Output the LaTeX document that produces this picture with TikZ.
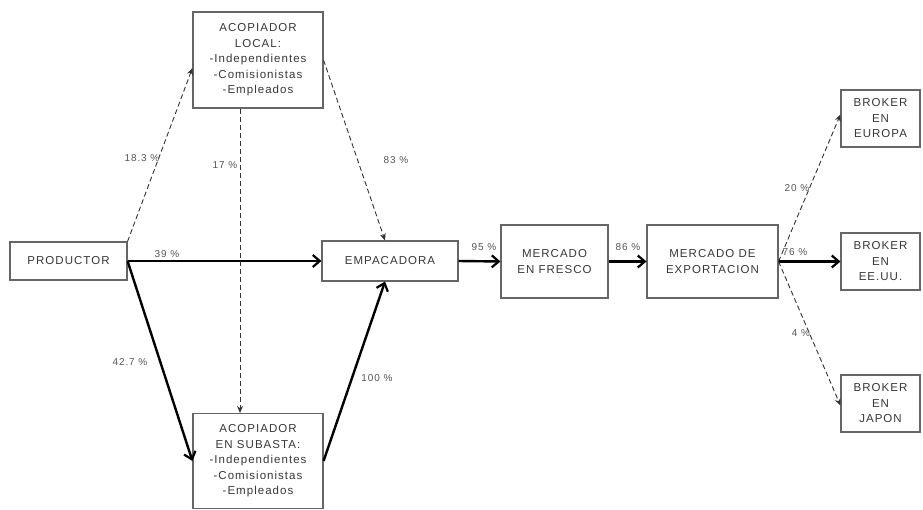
\documentclass[tikz,border=0pt]{standalone}
\usepackage{fontspec}
\setmainfont{Liberation Sans}
\newfontfamily\spacedfont[LetterSpace=9]{Liberation Sans}
\usetikzlibrary{arrows.meta}
\definecolor{boxtxt}{RGB}{55,55,55}
\definecolor{lbl}{RGB}{85,85,85}
\begin{document}
\begin{tikzpicture}[x=1pt,y=-1pt,
  box/.style={draw=gray!80!black,line width=1.1pt,fill=white,align=center,inner sep=1pt,
    font=\spacedfont\fontsize{11.5}{15.5}\selectfont,text=boxtxt},
  thickarr/.style={line width=2.4pt,-{Straight Barb[length=7pt,width=12pt,line width=2.2pt]}},
  dasharr/.style={dashed,line width=0.9pt,dash pattern=on 5pt off 3pt,-{Stealth[length=7pt,width=6pt]},color=black!80},
  pct/.style={font=\spacedfont\fontsize{10}{11}\selectfont,text=lbl}]
\useasboundingbox (0,0) rectangle (923,510);
\node[box,minimum width=130pt,minimum height=96pt] (loc) at (258,60)
  {ACOPIADOR\\LOCAL:\\-Independientes\\-Comisionistas\\-Empleados};
\node[box,minimum width=130pt,minimum height=95pt] (sub) at (258,461)
  {ACOPIADOR\\EN SUBASTA:\\-Independientes\\-Comisionistas\\-Empleados};
\node[box,minimum width=117pt,minimum height=38pt] (prod) at (68.5,261) {PRODUCTOR};
\node[box,minimum width=136pt,minimum height=40pt] (emp) at (390,261) {EMPACADORA};
\node[box,minimum width=107pt,minimum height=73pt] (fre) at (554.5,261.5) {MERCADO\\EN FRESCO};
\node[box,minimum width=131pt,minimum height=73pt] (exp) at (712.5,261.5) {MERCADO DE\\EXPORTACION};
\node[box,minimum width=79pt,minimum height=57pt] (eu) at (880.5,118.5) {BROKER\\EN\\EUROPA};
\node[box,minimum width=79pt,minimum height=57pt] (us) at (880.5,261.5) {BROKER\\EN\\EE.UU.};
\node[box,minimum width=79pt,minimum height=57pt] (jp) at (880.5,403.5) {BROKER\\EN\\JAPON};

\draw[dasharr] (prod.north east) -- ([yshift=-8pt]loc.west);
\draw[thickarr] (prod.east) -- (emp.west);
\draw[thickarr] (prod.east) -- (sub.west);
\draw[dasharr] ([xshift=-18pt]loc.south) -- ([xshift=-18pt]sub.north);
\draw[dasharr] (loc.east) -- ([xshift=-5pt]emp.north);
\draw[thickarr] (sub.east) -- ([xshift=-5pt]emp.south);
\draw[thickarr] (emp.east) -- (fre.west);
\draw[thickarr] (fre.east) -- (exp.west);
\draw[dasharr] (exp.east) -- ([yshift=4pt]eu.west);
\draw[thickarr] (exp.east) -- (us.west);
\draw[dasharr] (exp.east) -- ([yshift=-2pt]jp.west);

\node[pct] (p1) at (142,158) {18.3 \%};
\node[pct] (p2) at (225,165) {17 \%};
\node[pct] (p3) at (396,160) {83 \%};
\node[pct] (p4) at (167,254) {39 \%};
\node[pct] (p5) at (130,362) {42.7 \%};
\node[pct] (p6) at (377,378) {100 \%};
\node[pct] (p7) at (484,247) {95 \%};
\node[pct] (p8) at (628,247) {86 \%};
\node[pct] (p9) at (797,188) {20 \%};
\node[pct] (p10) at (795,252) {76 \%};
\node[pct] (p11) at (801,333) {4 \%};
\end{tikzpicture}
\end{document}
